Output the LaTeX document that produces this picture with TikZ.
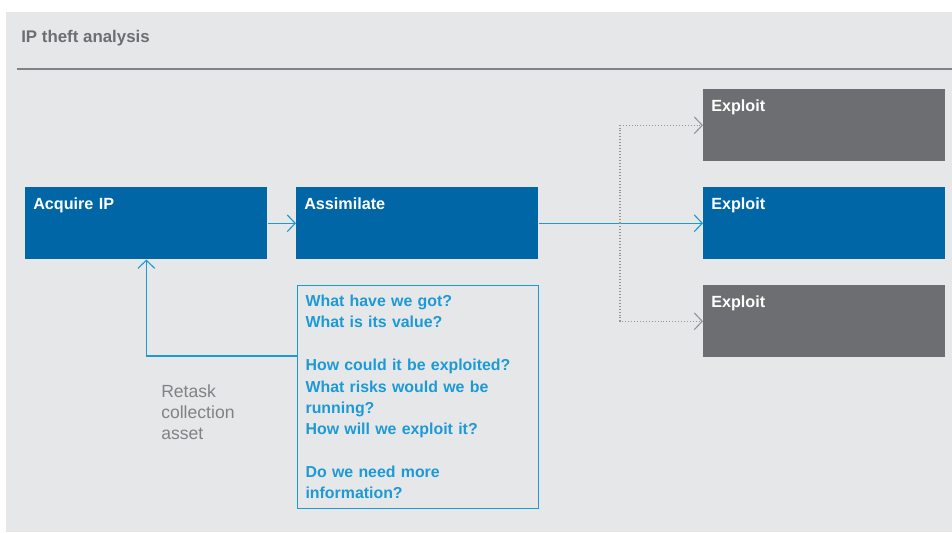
\documentclass[tikz,border=0pt]{standalone}
\usepackage{fontspec}
\setmainfont{Liberation Sans}
\usepackage{xcolor}
\usetikzlibrary{arrows.meta}
\definecolor{panelgray}{HTML}{E6E7E8}
\definecolor{dblue}{HTML}{0066A6}
\definecolor{lblue}{HTML}{1C9AD6}
\definecolor{dgray}{HTML}{6D6E71}
\definecolor{mgray}{HTML}{808285}
\definecolor{lgray}{HTML}{939598}

\begin{document}
\begin{tikzpicture}[x=0.025cm, y=-0.025cm,
	stage/.style={anchor=north west, fill=dblue, text=white, font=\fontsize{11.5}{14}\selectfont\bfseries, text width=5.65cm, align=left, inner sep=0.2cm, text height=0.36cm, text depth=1.04cm},
	idle/.style={stage, fill=dgray},
	ask/.style={anchor=north west, draw=lblue, line width=0.8pt, text=lblue, font=\fontsize{11.3}{15.2}\selectfont\bfseries, text width=5.625cm, align=left, inner xsep=0.2cm, inner ysep=0.22cm, minimum height=5.575cm},
	note/.style={anchor=north west, inner sep=0pt, text=mgray, font=\fontsize{12.5}{15.2}\selectfont, align=left},
	flow/.style={lblue, line width=0.8pt, -{Straight Barb[length=0.2cm, width=0.42cm]}},
	alt/.style={lgray, line width=0.8pt, dash pattern=on 0.7pt off 1.4pt, -{Straight Barb[length=0.2cm, width=0.42cm]}}]
			\useasboundingbox (0,0) rectangle (952,532);
			\fill[panelgray] (6,12) rectangle (952,532);
			\node[anchor=base west, inner sep=0pt, text=dgray, font=\fontsize{12}{14}\selectfont\bfseries] (title) at (21,43) {IP theft analysis};
			\draw[mgray, line width=1pt] (17,69) -- (952,69);
			\node[stage] (acq) at (25,187) {Acquire IP};
			\node[stage] (asm) at (296,187) {Assimilate};
			\node[idle] (ex1) at (703,89) {Exploit};
			\node[stage] (ex2) at (703,187) {Exploit};
			\node[idle] (ex3) at (703,285) {Exploit};
			\node[ask] (q) at (297,285) {What have we got?\\What is its value?\\[15.2pt]How could it be exploited?\\What risks would we be\\running?\\How will we exploit it?\\[15.2pt]Do we need more\\information?};
			\node[note] (rt) at (161,384) {Retask\\collection\\asset};
			\coordinate (ret) at (297,356);
			\coordinate (fork) at (620,223);
			\draw[flow] (acq.east) -- (asm.west);
			\draw[flow] (asm.east) -- (ex2.west);
			\draw[flow] (ret) -| (acq.south);
			\draw[alt] (fork) |- (ex1.west);
			\draw[alt] (fork) |- (ex3.west);
		\end{tikzpicture}
\end{document}
